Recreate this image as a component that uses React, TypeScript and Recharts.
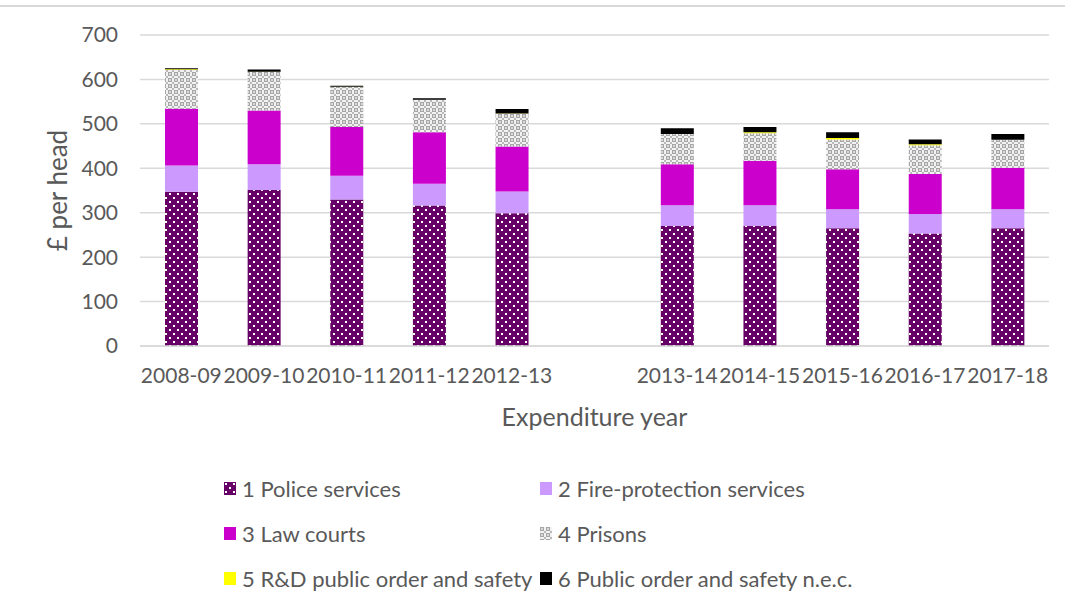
import { BarChart, Bar, XAxis, YAxis, CartesianGrid, Legend, Label } from "recharts";

const YEARS = [
  "2008-09", "2009-10", "2010-11", "2011-12", "2012-13", "",
  "2013-14", "2014-15", "2015-16", "2016-17", "2017-18",
];
const POLICE = [347, 351, 330, 316, 299, null, 270, 270, 265, 253, 265];
const FIRE = [59, 58, 53, 49, 49, null, 47, 47, 43, 44, 43];
const LAW = [128, 121, 110, 116, 101, null, 92, 100, 90, 90, 93];
const PRISONS = [87, 87, 90, 73, 74, null, 68, 62, 67, 65, 63];
const RD = [2, 0.5, 0.5, 0.5, 0.5, null, 0.3, 2, 3, 2, 0.3];
const OTHER = [2, 5, 2, 3, 10, null, 13, 12, 13, 11, 13];
const Y_TICKS = [0, 100, 200, 300, 400, 500, 600, 700];

const SERIES = [
  { key: "police", name: "1 Police services", fill: "url(#police)" },
  { key: "fire", name: "2 Fire-protection services", fill: "#cc99ff" },
  { key: "law", name: "3 Law courts", fill: "#cc00cc" },
  { key: "prisons", name: "4 Prisons", fill: "url(#prisons)" },
  { key: "rd", name: "5 R&D public order and safety", fill: "#ffff00" },
  { key: "other", name: "6 Public order and safety n.e.c.", fill: "#000000" },
];

const data = YEARS.map((year, i) => ({
  year,
  police: POLICE[i],
  fire: FIRE[i],
  law: LAW[i],
  prisons: PRISONS[i],
  rd: RD[i],
  other: OTHER[i],
}));

const FONT = "Lato, 'Open Sans', sans-serif";
const TEXT = "#595959";
const GRID = "#d9d9d9";
const TICK = { fill: TEXT, fontSize: 21, fontFamily: FONT };

function YTitle({ viewBox }: any) {
  const x = viewBox.x + 57;
  const y = viewBox.y + viewBox.height / 2;
  return (
    <text x={x} y={y} transform={`rotate(-90 ${x} ${y})`} textAnchor="middle"
      dominantBaseline="central" fill={TEXT} fontSize={26} fontFamily={FONT}>
      £ per head
    </text>
  );
}

function LegendBox() {
  return (
    <div style={{ display: "grid", gridTemplateColumns: "316px 360px", fontFamily: FONT, fontSize: 22, color: TEXT }}>
      {SERIES.map((s) => (
        <div key={s.key} style={{ height: 45, display: "flex", alignItems: "center", whiteSpace: "nowrap" }}>
          <svg width={12} height={13} style={{ marginRight: 6, flexShrink: 0 }}>
            <rect width={12} height={13} fill={s.fill} />
          </svg>
          <span>{s.name}</span>
        </div>
      ))}
    </div>
  );
}

export default function App() {
  return (
    <div style={{ position: "absolute", left: 0, top: 0, width: 1065, height: 610, background: "#fff" }}>
      <div style={{ position: "absolute", left: 0, top: 5, width: 1065, height: 2, background: GRID }} />
      <BarChart width={1065} height={610} data={data}
        margin={{ top: 35, right: 16, left: 0, bottom: 179 }} barSize={33}
        style={{ fontFamily: FONT }}>
        <defs>
          <pattern id="police" width={8} height={8} patternUnits="userSpaceOnUse">
            <rect width={8} height={8} fill="#660066" />
            <rect x={1} y={1} width={2} height={2} fill="#ffffff" />
            <rect x={5} y={5} width={2} height={2} fill="#ffffff" />
          </pattern>
          <pattern id="prisons" width={6} height={6} patternUnits="userSpaceOnUse">
            <rect width={6} height={6} fill="#f2f2f2" />
            <rect x={0} y={0} width={4} height={4} fill="#a6a6a6" />
            <rect x={1} y={1} width={2} height={2} fill="#d9d9d9" />
            <rect x={4} y={4} width={2} height={2} fill="#b8b8b8" />
          </pattern>
        </defs>
        <CartesianGrid vertical={false} stroke={GRID} strokeWidth={1.5} />
        <XAxis dataKey="year" interval={0} tickLine={false} tickSize={0} tickMargin={22}
          axisLine={{ stroke: GRID, strokeWidth: 1.5 }} tick={TICK} height={85}>
          <Label value="Expenditure year" position="insideBottom" offset={5}
            fill={TEXT} fontSize={25} fontFamily={FONT} />
        </XAxis>
        <YAxis domain={[0, 700]} ticks={Y_TICKS} width={140} tickLine={false} tickSize={0}
          tickMargin={22} axisLine={false} tick={TICK} label={<YTitle />} />
        <Legend layout="vertical" align="center" verticalAlign="middle"
          wrapperStyle={{ position: "absolute", top: 466, left: 224, width: 700 }}
          content={() => <LegendBox />} />
        {SERIES.map((s) => (
          <Bar key={s.key} dataKey={s.key} name={s.name} stackId="a" fill={s.fill}
            isAnimationActive={false} />
        ))}
      </BarChart>
    </div>
  );
}
